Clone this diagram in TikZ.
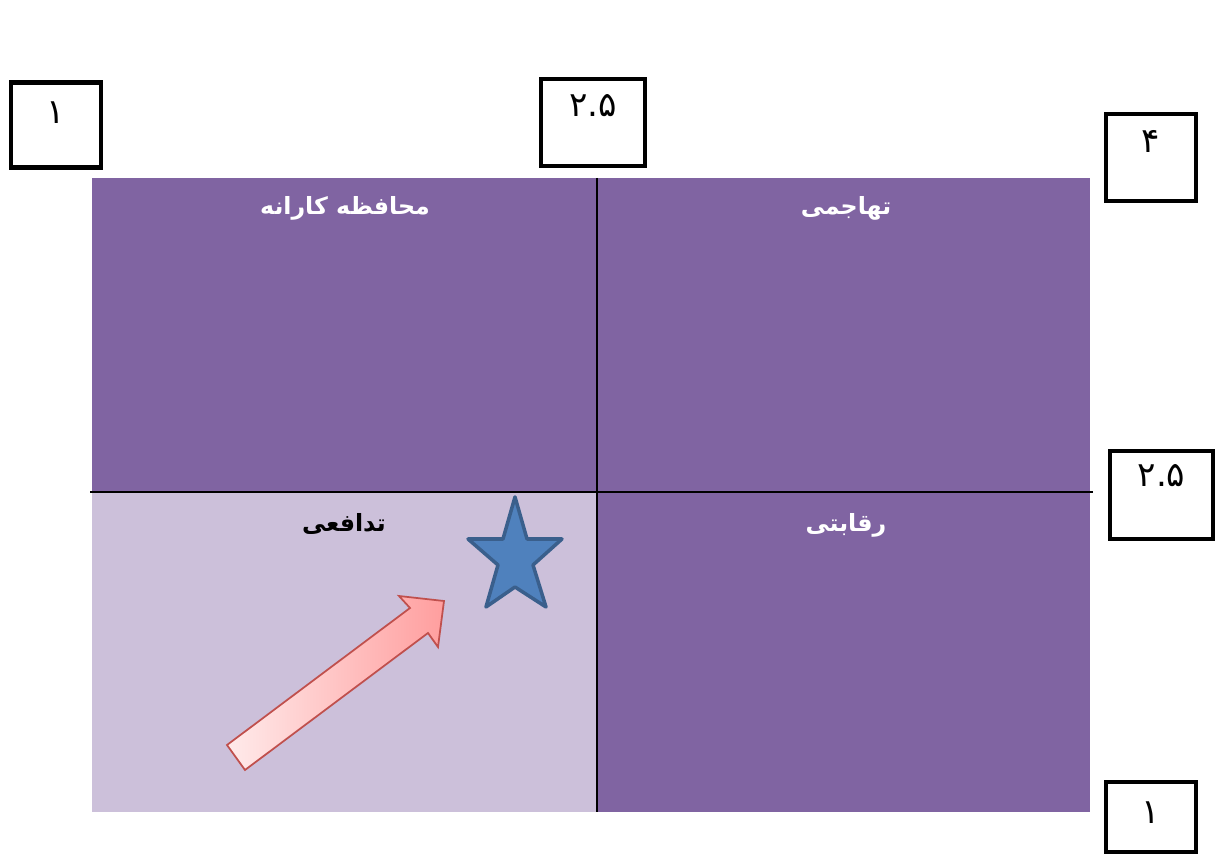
\documentclass[tikz,border=0pt]{standalone}
\usepackage{fontspec}
\usepackage{tikz}
\usetikzlibrary{positioning}
\TeXXeTstate=1
\newfontfamily\arabicfont[Script=Arabic]{DejaVu Sans}
\definecolor{quadpurple}{HTML}{8064A2}
\definecolor{quadlight}{HTML}{CCC0DA}
\definecolor{starblue}{HTML}{4F81BD}
\definecolor{stardark}{HTML}{3A5F8C}
\definecolor{arrowred}{HTML}{C0504D}

\begin{document}
\begin{tikzpicture}[x=0.02cm, y=-0.02cm,
    numbox/.style={draw, line width=2.6pt, inner sep=0pt,
      font=\arabicfont\fontsize{19.5}{22}\selectfont},
    quadlabel/.style={font=\arabicfont\bfseries\fontsize{13.5}{16}\selectfont}]
    \useasboundingbox (0,0) rectangle (1217,857);
    % quadrants
    \fill[quadpurple] (92,178)  rectangle (597,492);
    \fill[quadpurple] (597,178) rectangle (1090,492);
    \fill[quadlight]  (92,492)  rectangle (597,812);
    \fill[quadpurple] (597,492) rectangle (1090,812);
    \draw[line width=1.1pt] (597,178) -- (597,812);
    \draw[line width=1.1pt] (90,492) -- (1093,492);
    % quadrant labels
    \node[quadlabel, text=white] (conservative) at (345,208) {\beginR محافظه کارانه\endR};
    \node[quadlabel, text=white] (aggressive)   at (846,208) {\beginR تهاجمی\endR};
    \node[quadlabel, text=black] (defensive)    at (344,524) {\beginR تدافعی\endR};
    \node[quadlabel, text=white] (competitive)  at (846,525) {\beginR رقابتی\endR};
    % scale boxes
    \node[numbox, minimum width=1.8cm,  text height=0.82cm, text depth=0.89cm] (topone)   at (56,125)    {۱};
    \node[numbox, minimum width=2.08cm, text height=0.76cm, text depth=0.98cm] (topmid)   at (593,122.5) {۲.۵};
    \node[numbox, minimum width=1.8cm,  text height=0.78cm, text depth=0.96cm] (rightfour) at (1151,157.5) {۴};
    \node[numbox, minimum width=2.06cm, text height=0.72cm, text depth=1.04cm] (rightmid) at (1161.5,495) {۲.۵};
    \node[numbox, minimum width=1.8cm,  text height=0.82cm, text depth=0.58cm] (rightone) at (1151,817)   {۱};
    % arrow towards the star
    \shadedraw[left color=red!8, right color=red!38, draw=arrowred, line width=1pt, line join=miter]
      (227,745) -- (410,608) -- (399,596) -- (444,601) -- (438,647) -- (428,633) -- (245,770) -- cycle;
    % star
    \filldraw[fill=starblue, draw=stardark, line width=2pt, line join=round]
      (515,497) -- (527,539) -- (562,539) -- (533,565) -- (546,607) -- (515,587)
      -- (486,607) -- (498,565) -- (468,539) -- (503,539) -- cycle;
\end{tikzpicture}
\end{document}
